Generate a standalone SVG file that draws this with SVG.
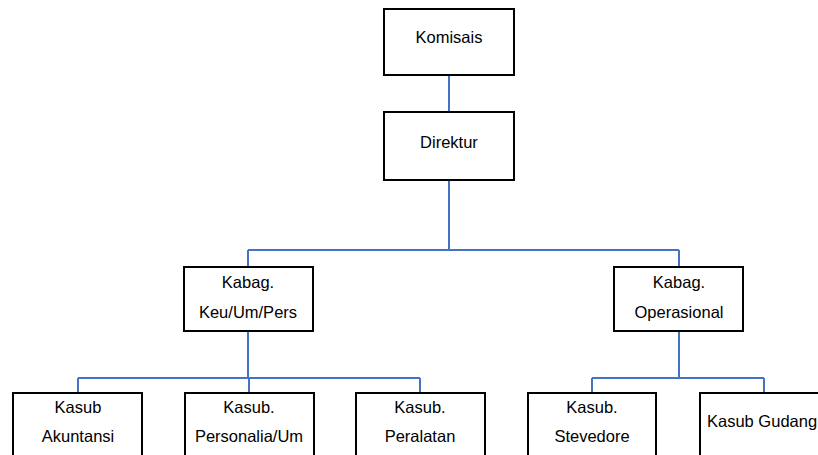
<svg xmlns="http://www.w3.org/2000/svg" width="818" height="455" viewBox="0 0 818 455">
<style>
.box{fill:#fff;stroke:#000;stroke-width:2}
.t{font-family:"Liberation Sans",Arial,sans-serif;font-size:16.5px;fill:#000;text-anchor:middle}
.c{fill:none;stroke:#4472C4;stroke-width:2}
</style>
<rect width="818" height="455" fill="#fff"/>
<g id="connectors">
<path class="c" d="M449 75V112M449 180V250M248 250H679M248 250V267M679 250V267"/>
<path class="c" d="M248 331V378M78 378H420M78 378V393M249 378V393M420 378V393"/>
<path class="c" d="M679 331V378M592 378H764M592 378V393M764 378V393"/>
</g>
<g id="komisais"><rect class="box" x="384" y="9" width="130" height="66"/><text class="t" x="449" y="43">Komisais</text></g>
<g id="direktur"><rect class="box" x="384" y="112" width="130" height="68"/><text class="t" x="449" y="148">Direktur</text></g>
<g id="kabag-keu"><rect class="box" x="184" y="267" width="129" height="64"/><text class="t" x="248" y="288">Kabag.</text><text class="t" x="248" y="318">Keu/Um/Pers</text></g>
<g id="kabag-ops"><rect class="box" x="614" y="267" width="129" height="64"/><text class="t" x="679" y="288">Kabag.</text><text class="t" x="679" y="318">Operasional</text></g>
<g id="kasub-akuntansi"><rect class="box" x="13" y="393" width="129" height="80"/><text class="t" x="78" y="413">Kasub</text><text class="t" x="78" y="442">Akuntansi</text></g>
<g id="kasub-personalia"><rect class="box" x="185" y="393" width="129" height="80"/><text class="t" x="249" y="413">Kasub.</text><text class="t" x="249" y="442">Personalia/Um</text></g>
<g id="kasub-peralatan"><rect class="box" x="356" y="393" width="129" height="80"/><text class="t" x="420" y="413">Kasub.</text><text class="t" x="420" y="442">Peralatan</text></g>
<g id="kasub-stevedore"><rect class="box" x="528" y="393" width="128" height="80"/><text class="t" x="592" y="413">Kasub.</text><text class="t" x="592" y="442">Stevedore</text></g>
<g id="kasub-gudang"><rect class="box" x="700" y="393" width="129" height="80"/><text class="t" x="707" y="427" style="text-anchor:start">Kasub Gudang</text></g>
</svg>
